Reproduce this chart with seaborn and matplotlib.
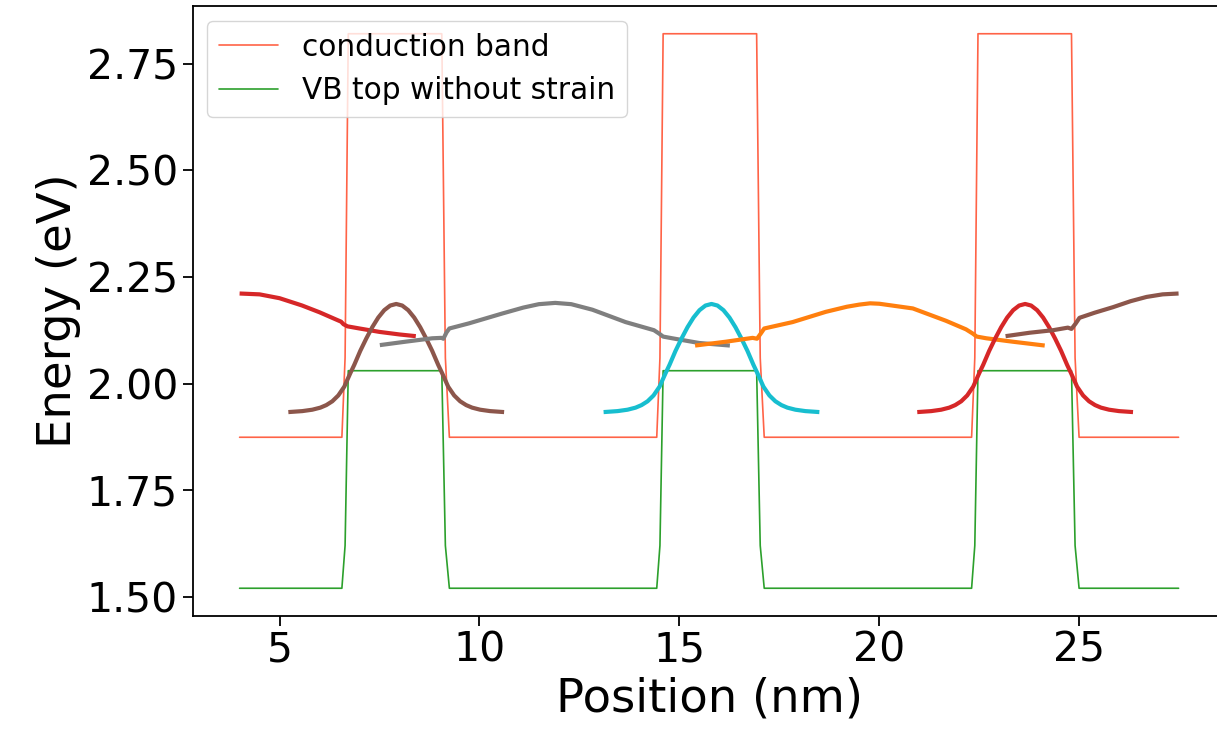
import matplotlib
matplotlib.use("Agg")
import matplotlib.pyplot as plt
from matplotlib.ticker import MultipleLocator, FormatStrFormatter
import numpy as np
import pandas as pd
import seaborn as sns

# ---------------- band-edge profiles (corner points) ----------------
band_x = [4.00, 6.56, 6.64, 6.72, 9.06, 9.15, 9.25,
          14.44, 14.52, 14.60, 16.94, 17.03, 17.13,
          22.32, 22.40, 22.48, 24.82, 24.91, 25.01, 27.50]
cb_energy = [1.874, 1.874, 2.06, 2.82, 2.82, 2.06, 1.874,
             1.874, 2.06, 2.82, 2.82, 2.06, 1.874,
             1.874, 2.06, 2.82, 2.82, 2.06, 1.874, 1.874]
vb_energy = [1.52, 1.52, 1.62, 2.03, 2.03, 1.62, 1.52,
             1.52, 1.62, 2.03, 2.03, 1.62, 1.52,
             1.52, 1.62, 2.03, 2.03, 1.62, 1.52, 1.52]

# ---------------- hole states (density shape relative to centre, shifted to level) -------
hole_dx = [-2.70, -2.35, -2.10, -1.90, -1.75, -1.60, -1.45, -1.30, -1.15, -1.05, -0.90, -0.75,
           -0.60, -0.45, -0.30, -0.15, 0.00,
           0.15, 0.30, 0.45, 0.60, 0.75, 0.90, 1.05, 1.15, 1.30, 1.45, 1.60, 1.75, 1.90,
           2.10, 2.35, 2.70]
hole_h = [0.0010, 0.0033, 0.0066, 0.0114, 0.0174, 0.0263, 0.0400, 0.0606, 0.0920, 0.1118, 0.1445,
          0.1734, 0.2000, 0.2226, 0.2399, 0.2508, 0.2545,
          0.2508, 0.2399, 0.2226, 0.2000, 0.1734, 0.1445, 0.1118, 0.0920, 0.0606, 0.0400,
          0.0263, 0.0174, 0.0114, 0.0066, 0.0033, 0.0010]
hole_centres = [7.92, 15.81, 23.66]
hole_level = 1.932
hole_colors = ["#8c564b", "#17becf", "#d62728"]

# ---------------- electron states ----------------
red_edge_x = [4.00, 4.50, 5.00, 5.56, 6.00, 6.44, 6.54, 6.60, 6.70, 7.00, 7.50, 8.00, 8.41]
red_edge_e = [2.211, 2.209, 2.200, 2.183, 2.167, 2.149, 2.145, 2.139, 2.134, 2.129, 2.121, 2.115, 2.111]

gray_x = [7.51, 8.15, 8.82, 9.05, 9.10, 9.18, 9.25, 9.74, 10.57, 11.10, 11.49, 11.90,
          12.30, 12.83, 13.66, 14.37, 14.50, 14.60, 14.83, 15.50, 16.27]
gray_e = [2.090, 2.098, 2.106, 2.107, 2.105, 2.120, 2.129, 2.141, 2.164, 2.178, 2.186, 2.189,
          2.186, 2.173, 2.144, 2.125, 2.117, 2.110, 2.106, 2.095, 2.089]

orange_x = [15.40, 16.17, 16.84, 16.95, 17.05, 17.13, 17.84, 18.67, 19.20, 19.51, 19.78,
            20.01, 20.85, 21.68, 22.18, 22.35, 22.45, 22.69, 23.35, 24.15]
orange_e = [2.089, 2.098, 2.107, 2.105, 2.118, 2.129, 2.144, 2.168, 2.180, 2.185, 2.188,
            2.187, 2.176, 2.147, 2.127, 2.117, 2.110, 2.106, 2.098, 2.089]

brown_edge_x = [23.17, 23.77, 24.36, 24.73, 24.82, 24.92, 25.02, 25.40, 25.86, 26.30, 26.70, 27.10, 27.50]
brown_edge_e = [2.111, 2.119, 2.125, 2.131, 2.128, 2.140, 2.154, 2.166, 2.179, 2.193, 2.203, 2.209, 2.211]

y_ticks_step = 0.25

# ---------------- style ----------------
sns.set_theme(style="ticks")
plt.rcParams.update({
    "axes.edgecolor": "black",
    "axes.linewidth": 1.3,
    "xtick.color": "black",
    "ytick.color": "black",
    "xtick.major.size": 7,
    "ytick.major.size": 7,
    "xtick.major.width": 1.3,
    "ytick.major.width": 1.3,
    "text.color": "black",
    "axes.labelcolor": "black",
})
plt.rcParams["font.family"] = ["DejaVu Sans"]

fig = plt.figure(figsize=(12.17, 7.34), dpi=100)
ax = fig.add_axes([0.1583, 0.1608, 0.8487, 0.831])

band_df = pd.DataFrame({"x": band_x, "cb": cb_energy, "vb": vb_energy})
sns.lineplot(data=band_df, x="x", y="cb", ax=ax, color="tomato", lw=1.2,
             estimator=None, sort=False, label="conduction band")
sns.lineplot(data=band_df, x="x", y="vb", ax=ax, color="#2ca02c", lw=1.2,
             estimator=None, sort=False, label="VB top without strain")

state_lw = 3.0

def state(xs, es, color):
    sns.lineplot(x=xs, y=es, ax=ax, color=color, lw=state_lw, estimator=None,
                 sort=False, solid_capstyle="butt")

hole_curves = []
for c, col in zip(hole_centres, hole_colors):
    hx = [c + d for d in hole_dx]
    hy = [hole_level + h for h in hole_h]
    hole_curves.append((hx, hy, col))

state(red_edge_x, red_edge_e, "#d62728")
state(*hole_curves[0])
state(gray_x, gray_e, "#7f7f7f")
state(*hole_curves[1])
state(orange_x, orange_e, "#ff7f0e")
state(*hole_curves[2])
state(brown_edge_x, brown_edge_e, "#8c564b")

ax.yaxis.set_major_locator(MultipleLocator(y_ticks_step))
ax.yaxis.set_major_formatter(FormatStrFormatter("%.2f"))

ax.set_xlabel("Position (nm)", fontsize=33.5)
ax.set_ylabel("Energy (eV)", fontsize=33.5)
ax.tick_params(labelsize=29.5)

ax.legend(loc="upper left", fontsize=21.3, frameon=True)

fig.savefig("out.png", dpi=100)
